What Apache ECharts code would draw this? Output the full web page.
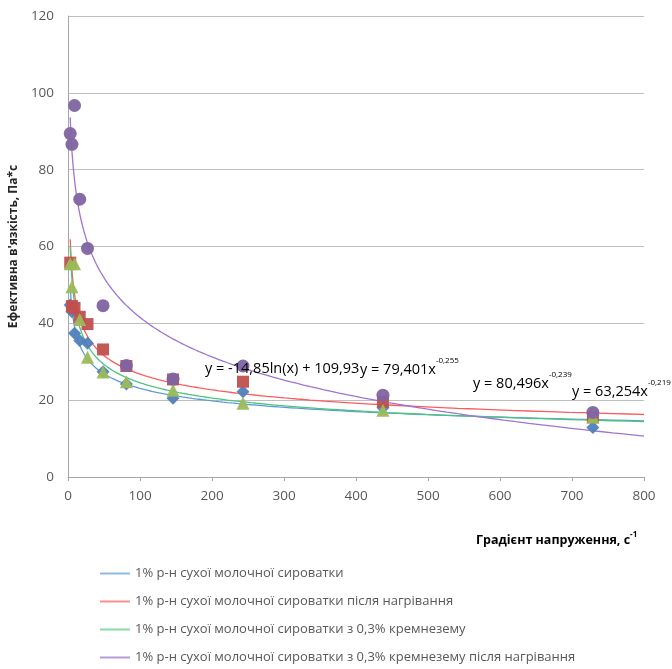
<!DOCTYPE html>
<html><head><meta charset="utf-8">
<script src="https://cdn.jsdelivr.net/npm/echarts@6/dist/echarts.min.js"></script>
<style>html,body{margin:0;padding:0;background:#fff}#c{width:672px;height:669px}</style>
</head><body><div id="c"></div>
<script>
// Shear rates (x), s^-1
var shearRates = [3, 5.4, 9, 16.2, 27, 48.6, 81, 145.8, 243, 437.4, 729];
// Effective viscosity, Pa*s
var whey       = [44.8, 43.0, 37.4, 35.5, 34.8, 27.4, 24.2, 20.5, 22.2, 18.0, 12.9];
var wheyHeated = [55.8, 44.5, 44.0, 41.7, 39.8, 33.2, 28.9, 25.4, 24.8, 19.6, 15.5];
var wheySilica = [55.5, 49.5, 55.5, 41.0, 31.2, 27.3, 24.8, 22.6, 19.2, 17.4, 15.6];
var wheySilicaHeated = [89.4, 86.6, 96.7, 72.3, 59.5, 44.6, 29.0, 25.5, 28.9, 21.3, 16.8];
var seriesNames = [
  '1% р-н сухої молочної сироватки',
  '1% р-н сухої молочної сироватки після нагрівання',
  '1% р-н сухої молочної сироватки з 0,3% кремнезему',
  '1% р-н сухої молочної сироватки з 0,3% кремнезему після нагрівання'
];
// Trendline coefficients shown on the chart
var powerFits = [[63.254, -0.219], [80.496, -0.239], [79.401, -0.255]]; // blue, red, green
var logFit = [-14.85, 109.93]; // purple
var trendRange = [3, 800];
var xTicks = [0, 800, 100];
var yTicks = [0, 120, 20];

var markerColors = ['#4F81BD', '#C0504D', '#9BBB59', '#8064A2'];
var lineColors = ['#5B9BD5', '#FF5A5A', '#4CC47F', '#9D74D2'];
var legendColors = ['#8CBBE6', '#FF8C8C', '#8AD9AB', '#B59BDD'];
var symbols = ['diamond', 'rect', 'triangle', 'circle'];
var symbolSizes = [13, 12, 13, 13];
var dataSets = [whey, wheyHeated, wheySilica, wheySilicaHeated];

function curve(fn) {
  var pts = [], n = 200;
  var a = Math.log(trendRange[0]), b = Math.log(trendRange[1]);
  for (var i = 0; i <= n; i++) {
    var x = Math.exp(a + (b - a) * i / n);
    pts.push([x, fn(x)]);
  }
  return pts;
}
var trendFns = [
  function (x) { return powerFits[0][0] * Math.pow(x, powerFits[0][1]); },
  function (x) { return powerFits[1][0] * Math.pow(x, powerFits[1][1]); },
  function (x) { return powerFits[2][0] * Math.pow(x, powerFits[2][1]); },
  function (x) { return logFit[0] * Math.log(x) + logFit[1]; }
];

var series = [];
for (var i = 0; i < 4; i++) {
  series.push({
    type: 'line', name: seriesNames[i], data: curve(trendFns[i]), showSymbol: false,
    smooth: false, lineStyle: { color: lineColors[i], width: 1.3 }, itemStyle: { color: legendColors[i] },
    z: 2, silent: true
  });
}
for (var i = 0; i < 4; i++) {
  series.push({
    type: 'scatter', name: 's' + i,
    data: shearRates.map(function (x, k) { return [x, dataSets[i][k]]; }),
    symbol: symbols[i], symbolSize: symbolSizes[i],
    itemStyle: { color: markerColors[i], opacity: 0.95 }, z: 3 + i
  });
}

var txt = '#404040';
var eqRich = { b: { fontSize: 14.5, color: txt, fontFamily: 'Open Sans', lineHeight: 20, verticalAlign: 'bottom' },
               s: { fontSize: 8, color: txt, fontFamily: 'Open Sans', lineHeight: 10, verticalAlign: 'top' } };

var chart = echarts.init(document.getElementById('c'), null, { renderer: 'canvas' });
chart.setOption({
  animation: false,
  backgroundColor: '#fff',
  grid: { left: 64, right: 28, top: 16, bottom: 192, containLabel: false },
  xAxis: {
    type: 'value', min: xTicks[0], max: xTicks[1], interval: xTicks[2],
    axisLine: { lineStyle: { color: '#A6A6A6', width: 1 } },
    axisTick: { show: true, length: 4, inside: false, lineStyle: { color: '#A6A6A6' } },
    axisLabel: { color: '#595959', fontSize: 13.5, fontFamily: 'Open Sans', margin: 12 },
    splitLine: { show: false }
  },
  yAxis: {
    type: 'value', min: yTicks[0], max: yTicks[1], interval: yTicks[2],
    axisLine: { show: true, lineStyle: { color: '#A6A6A6', width: 1 } },
    axisTick: { show: false },
    axisLabel: { color: '#595959', fontSize: 13.5, fontFamily: 'Open Sans', margin: 14 },
    splitLine: { lineStyle: { color: '#BFBFBF', width: 1 } },
    name: "Ефективна в'язкість, Па*с", nameLocation: 'middle', nameGap: 47, nameRotate: 90,
    nameTextStyle: { fontWeight: 'bold', fontSize: 12, color: '#262626', fontFamily: 'Open Sans' }
  },
  legend: {
    data: seriesNames.map(function (n, i) { return { name: n, icon: 'rect', itemStyle: { color: legendColors[i] } }; }),
    orient: 'vertical', left: 100, top: 567, height: 102, padding: 0, itemGap: 15,
    itemWidth: 30, itemHeight: 2,
    textStyle: { color: '#595959', fontSize: 13, fontFamily: 'Liberation Sans Narrow, Open Sans' },
    selectedMode: false
  },
  graphic: [
    { type: 'text', left: 476, top: 531, style: { rich: {
        b: { fontSize: 12.5, fontWeight: 'bold', color: '#262626', fontFamily: 'Open Sans', lineHeight: 16, verticalAlign: 'bottom' },
        s: { fontSize: 8, fontWeight: 'bold', color: '#262626', fontFamily: 'Open Sans', lineHeight: 9, verticalAlign: 'top' } },
        text: '{b|Градієнт напруження, с}{s|-1}' } },
    { type: 'text', left: 205, top: 361, z: 10, style: { rich: eqRich, text: '{b|y = -14,85ln(x) + 109,93}' } },
    { type: 'text', left: 360, top: 357, z: 10, style: { rich: eqRich, text: '{b|y = 79,401x}{s|-0,255}' } },
    { type: 'text', left: 473, top: 371, z: 10, style: { rich: eqRich, text: '{b|y = 80,496x}{s|-0,239}' } },
    { type: 'text', left: 572, top: 379, z: 10, style: { rich: eqRich, text: '{b|y = 63,254x}{s|-0,219}' } }
  ],
  series: series
});
</script></body></html>
